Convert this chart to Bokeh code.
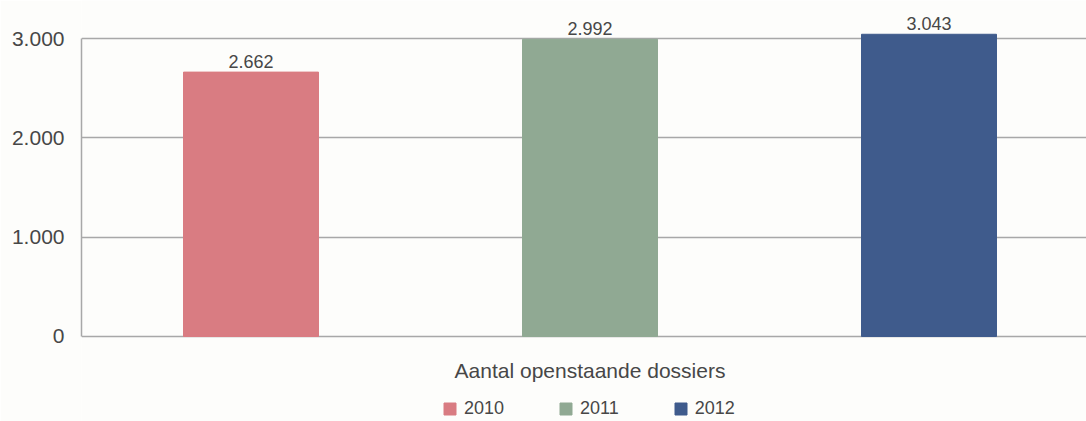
import numpy as np
from bokeh.plotting import figure
from bokeh.models import (ColumnDataSource, Range1d, FixedTicker, Label, Legend, LegendItem)
from bokeh.embed import file_html
from bokeh.resources import INLINE
from bokeh.core.properties import value

# ---- data ----
years = ["2010", "2011", "2012"]
counts = [2662, 2992, 3043]
colors = ["#d97c82", "#90a993", "#3f5b8c"]
tick_vals = [0, 1000, 2000, 3000]
tick_labels = ["0", "1.000", "2.000", "3.000"]
category_title = "Aantal openstaande dossiers"

FONT = "Liberation Sans"
TXT = "#474747"
BG = "#fdfdfb"

xpos = np.arange(len(years)) + 0.5
src = ColumnDataSource(dict(
    x=xpos, top=counts, color=colors, year=years,
    label=[f"{v:,}".replace(",", ".") for v in counts],
))

# frame covers whole height; the area below 0 holds title and legend
p = figure(width=1086, height=421, output_backend="svg", toolbar_location=None,
           x_range=Range1d(0, 1005 / 339), y_range=Range1d(-856, 3383),
           min_border_left=81, min_border_right=0, min_border_top=0, min_border_bottom=0,
           background_fill_color=BG, border_fill_color=BG, outline_line_color=None)

r = p.vbar(x="x", top="top", width=135 / 339, color="color", source=src)

p.text(x="x", y="top", text="label", source=src, text_align="center",
       text_baseline="alphabetic", y_offset=-11, text_font=value(FONT),
       text_font_size="18px", text_color=TXT)

# axes / grid
p.xaxis.visible = False
p.xgrid.visible = False
yax = p.yaxis[0]
yax.ticker = FixedTicker(ticks=tick_vals)
yax.major_label_overrides = {v: l for v, l in zip(tick_vals, tick_labels)}
yax.bounds = (0, 3000)
yax.major_tick_out = 0
yax.major_tick_in = 0
yax.minor_tick_out = 0
yax.minor_tick_in = 0
yax.major_label_standoff = 17
yax.major_label_text_font = FONT
yax.major_label_text_font_size = "21px"
yax.major_label_text_color = TXT
yax.axis_line_color = "#a8a8a8"
yax.axis_line_width = 1.5
p.ygrid.ticker = FixedTicker(ticks=tick_vals)
p.ygrid.grid_line_color = "#a8a8a8"
p.ygrid.grid_line_width = 1.5

# category title
p.add_layout(Label(x=1.5, y=51, x_units="data", y_units="screen", text=category_title,
                   text_align="center", text_baseline="alphabetic", text_font=FONT,
                   text_font_size="21px", text_color=TXT))

# legend
items = [LegendItem(label=y, renderers=[r], index=i) for i, y in enumerate(years)]
leg = Legend(items=items, orientation="horizontal", location=(361, 2),
             glyph_width=15, glyph_height=15, label_standoff=7, spacing=54,
             padding=0, margin=0, border_line_color=None, background_fill_alpha=0,
             label_text_font=FONT, label_text_font_size="18px", label_text_color=TXT,
             label_height=15)
p.add_layout(leg)

open("out.html", "w").write(file_html(p, INLINE))
